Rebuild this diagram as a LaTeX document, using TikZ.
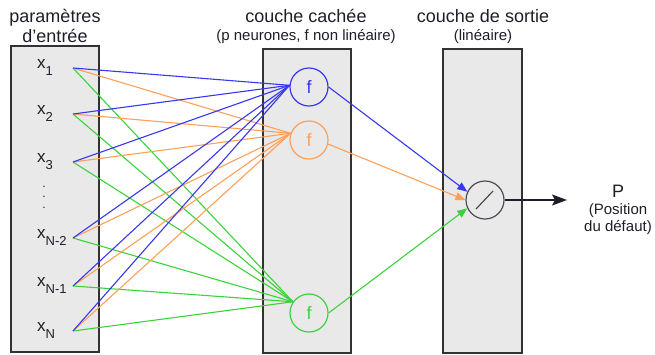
\documentclass[tikz,border=0pt]{standalone}
\usepackage{fontspec}
\setmainfont{Liberation Sans}
\usetikzlibrary{arrows.meta}
\definecolor{wblue}{RGB}{55,55,240}
\definecolor{worange}{RGB}{255,160,90}
\definecolor{wgreen}{RGB}{60,210,60}
\definecolor{layerfill}{RGB}{233,233,233}
\definecolor{layeredge}{RGB}{50,50,50}
\definecolor{ink}{RGB}{30,30,40}
\newcommand{\xsub}[1]{x\raisebox{-7.5pt}{\fontsize{13}{13}\selectfont #1}}
\begin{document}
\begin{tikzpicture}[x=1pt,y=-1pt,
  layer/.style={fill=layerfill,draw=layeredge,line width=1.3pt},
  title/.style={font=\fontsize{18}{20}\selectfont,text=ink,anchor=base,inner sep=0},
  subtitle/.style={font=\fontsize{15}{17}\selectfont,text=ink,anchor=base,inner sep=0},
  inlab/.style={font=\fontsize{17}{17}\selectfont,text=ink,anchor=base west,inner sep=0},
  neuron/.style={circle,minimum size=38pt,inner sep=0,line width=1.2pt,fill=layerfill,
    font=\fontsize{18}{18}\selectfont},
  wire/.style={line width=1.1pt},
  feed/.style={line width=1.1pt,-{Triangle[length=10pt,width=8pt]}}]
\useasboundingbox (0,0) rectangle (655,354);

% layers
\path[layer] (11,46) rectangle (99,352);
\path[layer] (263,49) rectangle (351,353);
\path[layer] (443,49) rectangle (522,353);

% titles
\node[title] (t1) at (55,22) {paramètres};
\node[title] (t1b) at (55,42) {d’entrée};
\node[title] (t2) at (306,22) {couche cachée};
\node[subtitle] (t2b) at (306,40) {(p neurones, f non linéaire)};
\node[title] (t3) at (483,22) {couche de sortie};
\node[subtitle] (t3b) at (483,40) {(linéaire)};

% inputs
\node[inlab] (x1) at (37,68) {\xsub{1}};
\node[inlab] (x2) at (37,114) {\xsub{2}};
\node[inlab] (x3) at (37,162) {\xsub{3}};
\node[font=\fontsize{12}{10.5}\selectfont,text=ink,align=center,inner sep=0] (dots) at (44,197) {.\\.\\.};
\node[inlab] (x4) at (37,238) {\xsub{N-2}};
\node[inlab] (x5) at (37,286) {\xsub{N-1}};
\node[inlab] (x6) at (37,331) {\xsub{N}};
\coordinate (s1) at (73,68);
\coordinate (s2) at (73,114);
\coordinate (s3) at (73,162);
\coordinate (s4) at (73,238);
\coordinate (s5) at (73,286);
\coordinate (s6) at (73,331);

% hidden neurons
\node[neuron,draw=wblue,text=wblue] (h1) at (309,87) {f};
\node[neuron,draw=worange,text=worange] (h2) at (309,140) {f};
\node[neuron,draw=wgreen,text=wgreen] (h3) at (309,313) {f};

% output neuron
\node[neuron,draw=ink!80] (o) at (485,200) {};
\draw[line width=1.1pt,ink!85] ([shift={(-9,9)}]o.center) -- ([shift={(8,-9)}]o.center);

% input-to-hidden connections
\foreach \s in {s1,s2,s3,s4,s5,s6}{
  \draw[wire,wgreen] (\s) -- (h3.145);
  \draw[wire,worange] (\s) -- (h2.160);
  \draw[wire,wblue] (\s) -- (h1.175);
}

% hidden-to-output connections
\draw[feed,wblue] (h1.east) -- (o.155);
\draw[feed,worange] (h2.-12) -- (o.180);
\draw[feed,wgreen] (h3.east) -- (o.205);

% output
\coordinate (pend) at (567,200);
\draw[line width=1.1pt,ink,-{Stealth[length=15pt,width=11pt,inset=3pt]}] (o.east) -- (pend);
\node[title] (p) at (618,197) {P};
\node[subtitle] (p1) at (618,214) {(Position};
\node[subtitle] (p2) at (618,231) {du défaut)};
\end{tikzpicture}
\end{document}
